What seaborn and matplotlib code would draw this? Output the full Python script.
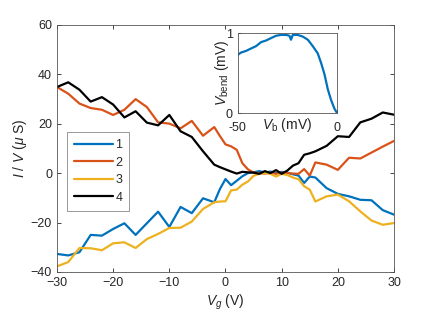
import numpy as np
import pandas as pd
import matplotlib
matplotlib.use("Agg")
import matplotlib.pyplot as plt
import seaborn as sns

vg = [-30, -28, -26, -24, -22, -20, -18, -16, -14, -12, -10, -8, -6, -4, -2, -1, 0, 1, 2, 3,
      4, 5, 6, 7, 8, 9, 10, 11, 12, 13, 14, 15, 16, 18, 20, 22, 24, 26, 28, 30]

s1 = [-32.7, -33.3, -32.0, -25.0, -25.3, -22.6, -20.3, -25.0, -20.3, -15.6, -21.8, -13.7, -16.2, -10.2,
      -11.8, -6.5, -2.4, -4.9, -3.1, -1.3, 0.0, 0.3, 0.8, 0.2, 0.6, 0.0, 0.5, 0.2, -0.5, -1.0,
      -4.0, -1.4, -1.8, -6.1, -8.4, -9.4, -10.8, -11.0, -15.0, -16.8]
s2 = [34.8, 32.1, 28.1, 26.3, 25.6, 23.5, 25.6, 29.9, 26.7, 20.5, 20.0, 18.1, 21.1, 15.1,
      18.6, 15.0, 11.6, 10.8, 9.4, 4.0, 1.5, 0.2, 0.0, -0.2, 0.1, -0.3, 0.2, 0.0, -0.2, -0.3,
      1.6, -1.0, 4.3, 3.4, 1.3, 6.2, 5.9, 8.3, 10.7, 13.0]
s3 = [-37.7, -36.0, -30.3, -30.4, -31.2, -28.4, -28.0, -30.3, -26.7, -24.6, -22.2, -22.1, -19.6, -14.5,
      -11.8, -11.5, -11.4, -7.0, -6.7, -4.7, -3.4, -1.1, -0.3, 0.0, -0.3, -1.4, -0.3, -0.8, -1.8, -2.5,
      -5.3, -6.7, -11.5, -9.4, -8.7, -11.4, -15.5, -19.2, -20.9, -20.2]
s4 = [34.8, 36.7, 33.7, 28.9, 30.7, 27.7, 22.5, 25.0, 20.4, 19.3, 23.5, 16.9, 14.6, 8.8,
      3.4, 2.4, 1.5, 0.6, -0.2, 0.5, 0.3, 0.2, -0.3, 0.8, 0.0, 1.2, -0.3, 1.0, 3.0, 4.0,
      7.4, 8.0, 8.8, 11.0, 14.9, 14.6, 20.5, 22.0, 24.5, 23.6]
series_names = ["1", "2", "3", "4"]

vb = [-50, -48.3, -45.8, -43.3, -40.7, -38.2, -35.7, -33.2, -30.6, -28.1, -25.6, -23.9, -23.1,
      -22.2, -19.7, -17.2, -14.6, -12.1, -9.6, -7.9, -6.2, -4.5, -2.9, -1.2, 0]
vbend = [0.73, 0.76, 0.78, 0.81, 0.84, 0.89, 0.91, 0.94, 0.97, 0.98, 0.98, 0.97, 0.92,
         0.98, 0.98, 0.96, 0.92, 0.84, 0.75, 0.63, 0.49, 0.30, 0.17, 0.06, 0.01]

colors = ["#0072BD", "#D95319", "#EDB120", "#000000"]

sns.set_style("ticks")
plt.rcParams['font.family'] = ['Liberation Sans', 'DejaVu Sans']
plt.rcParams['mathtext.fontset'] = 'custom'
plt.rcParams['mathtext.rm'] = 'Liberation Sans'
plt.rcParams['mathtext.it'] = 'Liberation Sans:italic'
plt.rcParams['mathtext.bf'] = 'Liberation Sans:bold'

TXT = "#262626"

df = pd.DataFrame({
    "Vg": vg * 4,
    "G": s1 + s2 + s3 + s4,
    "series": sum([[n] * len(vg) for n in series_names], []),
})

fig = plt.figure(figsize=(4.36, 3.27), dpi=100)
ax = fig.add_axes([0.1307, 0.1682, 0.773, 0.7563])
sns.lineplot(data=df, x="Vg", y="G", hue="series", palette=colors, linewidth=1.6,
             ax=ax, sort=False, estimator=None)
ax.set_xlim(-30, 30)
ax.set_ylim(-40, 60)
ax.set_xticks(np.arange(-30, 31, 10))
ax.set_yticks(np.arange(-40, 61, 20))
ax.set_xlabel(r"$V_g$ (V)", fontsize=10, color=TXT, labelpad=3)
ax.set_ylabel(r"$I$ / $V$ ($\mu$ S)", fontsize=10, color=TXT, labelpad=1)
ax.tick_params(direction="in", top=True, right=True, labelsize=9, colors=TXT,
               length=3, width=0.6)
for sp in ax.spines.values():
    sp.set_visible(True)
    sp.set_color("#555555")
    sp.set_linewidth(0.6)
leg = ax.legend(loc="upper left", bbox_to_anchor=(0.03, 0.566), borderaxespad=0,
                fancybox=False, edgecolor="#888888", framealpha=1, fontsize=9,
                handlelength=3.1, handletextpad=0.2, labelspacing=0.45, borderpad=0.55)
leg.get_frame().set_linewidth(0.6)
for line in leg.get_lines():
    line.set_linewidth(1.6)

axin = fig.add_axes([0.5452, 0.6535, 0.2271, 0.2446])
sns.lineplot(x=vb, y=vbend, color="#0072BD", linewidth=1.6, ax=axin, sort=False, estimator=None)
axin.set_xlim(-50, 0)
axin.set_ylim(0, 1)
axin.set_xticks([-50, 0])
axin.set_yticks([0, 1])
axin.set_xticklabels(["-50", "0"])
axin.set_xlabel(r"$V_{\rm b}$ (mV)", fontsize=10, color=TXT, labelpad=-13)
axin.set_ylabel(r"$V_{\rm bend}$ (mV)", fontsize=10, color=TXT, labelpad=-4)
axin.tick_params(direction="in", labelsize=9, colors=TXT, length=2, width=0.6)
axin.tick_params(axis="x", pad=6)
for sp in axin.spines.values():
    sp.set_visible(True)
    sp.set_color("#555555")
    sp.set_linewidth(0.6)

fig.savefig("out.png", dpi=100)
